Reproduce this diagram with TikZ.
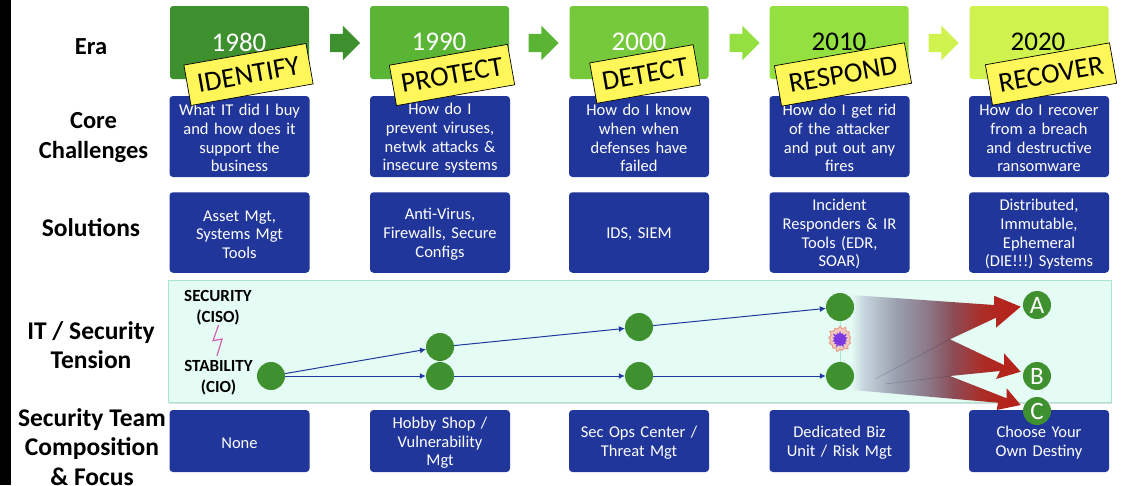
\documentclass[tikz,border=0pt]{standalone}
\usepackage{fontspec}
\setmainfont{Carlito}
\frenchspacing
\usetikzlibrary{arrows.meta,shapes.symbols,shapes.arrows,shapes.geometric}
\definecolor{bluebox}{HTML}{21369B}
\definecolor{tensbg}{HTML}{E4FCF4}
\definecolor{tensedge}{HTML}{A8E6D0}
\definecolor{dotgreen}{HTML}{3F9130}
\definecolor{lineblue}{HTML}{1F3A9E}
\definecolor{redarrow}{HTML}{B4241C}
\definecolor{fadeA}{HTML}{C7D6DE}
\definecolor{fadeB}{HTML}{999EAD}
\definecolor{fadeC}{HTML}{8C7887}
\definecolor{fadeD}{HTML}{8C4D57}
\definecolor{fadeE}{HTML}{AD2B26}
\definecolor{yel}{HTML}{FFF65A}
\definecolor{gA}{HTML}{3E8F2E}
\definecolor{gB}{HTML}{5AB535}
\definecolor{gC}{HTML}{76C93B}
\definecolor{gD}{HTML}{93E040}
\definecolor{gE}{HTML}{CFF24F}
\definecolor{boltc}{HTML}{D660AA}
\definecolor{burstout}{HTML}{F0C8BE}
\definecolor{burstedge}{HTML}{E8A08C}
\definecolor{burstin}{HTML}{7A38E0}
\pgfdeclarehorizontalshading{redfade}{100bp}{
  color(0bp)=(tensbg); color(25bp)=(tensbg);
  color(29bp)=(fadeA);
  color(40bp)=(fadeB);
  color(50bp)=(fadeC);
  color(58bp)=(fadeD);
  color(68bp)=(fadeE);
  color(75bp)=(redarrow); color(100bp)=(redarrow)}
\tikzset{
  era/.style={rounded corners=3pt,minimum width=139pt,minimum height=73pt,inner sep=0pt},
  yearlabel/.style={font=\fontsize{27}{27}\selectfont},
  bluecard/.style={fill=bluebox,rounded corners=3.5pt,minimum width=140pt,inner sep=1pt,text=white,align=center,font=\fontsize{16.5}{18.7}\selectfont,text width=138pt,execute at begin node={\leavevmode\vrule width 0pt height 15pt\relax}},
  tagbox/.style={draw=black,line width=0.7pt,fill=yel,rotate=10,minimum height=41pt,inner sep=0pt,font=\fontsize{28}{30}\selectfont},
  rowlabel/.style={align=center,font=\fontsize{25.5}{29.5}\selectfont\bfseries},
  rowlabelsm/.style={align=center,font=\fontsize{24.5}{30}\selectfont\bfseries},
  dot/.style={circle,fill=dotgreen,minimum size=28pt,inner sep=0pt},
  letterdot/.style={circle,fill=dotgreen,minimum size=28pt,inner sep=0pt,text=white,font=\fontsize{25}{25}\selectfont},
  flow/.style={draw=lineblue,line width=1pt,-{Latex[length=6pt,width=6pt]}},
  stepgo/.style={shape=single arrow,single arrow head extend=8pt,single arrow tip angle=90,inner xsep=0pt,inner ysep=9pt,minimum height=30pt,single arrow head indent=0pt},
  small/.style={align=center,font=\fontsize{17}{21}\selectfont\bfseries},
}
\begin{document}
\begin{tikzpicture}[x=1pt,y=-1pt]
\useasboundingbox (0,0) rectangle (1122,485);
\fill[white] (0,0) rectangle (1122,485);
\fill[black] (0,0) rectangle (11,485);
% era boxes
\node[era,fill=gA] (e1) at (239.5,42.5) {};
\node[era,fill=gB] (e2) at (439.5,42.5) {};
\node[era,fill=gC] (e3) at (639,42.5) {};
\node[era,fill=gD] (e4) at (839,42.5) {};
\node[era,fill=gE] (e5) at (1039,42.5) {};
\node[yearlabel,text=white] (y1) at (239,42) {1980};
\node[yearlabel,text=white] (y2) at (439,42) {1990};
\node[yearlabel,text=white] (y3) at (639,42) {2000};
\node[yearlabel,text=black] (y4) at (839,42) {2010};
\node[yearlabel,text=black] (y5) at (1038,42) {2020};
% arrows between eras
\node[stepgo,fill=gA] (a1) at (340.5,43) {};
\node[stepgo,fill=gB] (a2) at (539,43) {};
\node[stepgo,fill=gD] (a3) at (740,43) {};
\node[stepgo,fill=gE] (a4) at (939,43) {};
% core
\node[bluecard,minimum height=81pt] (c1) at (239.5,136.5) {What IT did I buy\\and how does it\\support the\\business};
\node[bluecard,minimum height=81pt] (c2) at (440,136.5) {How do I\\prevent viruses,\\netwk attacks \&\\insecure systems};
\node[bluecard,minimum height=81pt] (c3) at (639,136.5) {How do I know\\when when\\defenses have\\failed};
\node[bluecard,minimum height=81pt] (c4) at (839.5,136.5) {How do I get rid\\of the attacker\\and put out any\\fires};
\node[bluecard,minimum height=81pt] (c5) at (1039,136.5) {How do I recover\\from a breach\\and destructive\\ransomware};
% tags
\node[tagbox,minimum width=124pt] (t1) at (248.5,74.5) {IDENTIFY};
\node[tagbox,minimum width=120pt] (t2) at (452,75) {PROTECT};
\node[tagbox,minimum width=105pt] (t3) at (645,74) {DETECT};
\node[tagbox,minimum width=132pt] (t4) at (843,74.5) {RESPOND};
\node[tagbox,minimum width=126pt] (t5) at (1051,74) {RECOVER};
% solutions
\node[bluecard,minimum height=80.5pt] (s1) at (239.5,232.5) {Asset Mgt,\\Systems Mgt\\Tools};
\node[bluecard,minimum height=80.5pt] (s2) at (440,232.5) {Anti-Virus,\\Firewalls, Secure\\Configs};
\node[bluecard,minimum height=80.5pt] (s3) at (639,232.5) {IDS, SIEM};
\node[bluecard,minimum height=80.5pt] (s4) at (839.5,232.5) {Incident\\Responders \& IR\\Tools (EDR,\\SOAR)};
\node[bluecard,minimum height=80.5pt] (s5) at (1039,232.5) {Distributed,\\Immutable,\\Ephemeral\\(DIE!!!) Systems};
% row labels
\node[rowlabelsm] (l1) at (91,47) {Era};
\node[rowlabelsm] (l2) at (93.5,138) {Core\\Challenges};
\node[rowlabel] (l3) at (91,227.5) {Solutions};
\node[rowlabel] (l4) at (91,345) {IT / Security\\Tension};
\node[rowlabel] (l5) at (92,447) {Security Team\\Composition\\\& Focus};
% tension panel
\fill[black!25,opacity=.5] (169,282) rectangle (1112,404);
\node[draw=tensedge,fill=tensbg,line width=1pt,minimum width=943pt,minimum height=122pt,inner sep=0pt] (panel) at (639.5,341) {};
\node[small] (sec) at (218,308) {SECURITY\\(CISO)};
\node[small] (sta) at (218.5,378) {STABILITY\\(CIO)};
\coordinate (bolttop) at (218.6,325);
\coordinate (boltbot) at (217,356);
\draw[draw=boltc,line width=1.2pt] (bolttop) -- (213,340.7) -- (222,339) -- (boltbot);
% bottom row
\node[bluecard,minimum height=62pt] (b1) at (239.5,441) {None};
\node[bluecard,minimum height=62pt] (b2) at (440,441) {Hobby Shop /\\Vulnerability\\Mgt};
\node[bluecard,minimum height=62pt] (b3) at (639,441) {Sec Ops Center /\\Threat Mgt};
\node[bluecard,minimum height=62pt] (b4) at (839.5,441) {Dedicated Biz\\Unit / Risk Mgt};
\node[bluecard,minimum height=62pt] (b5) at (1039,441) {Choose Your\\Own Destiny};
% red arrows
\begin{scope}
\clip (851.7,295) -- (994,305) -- (994,295.7) -- (1020.7,306.7) -- (996,327.7) -- (996,317.7) -- (950,339.3)
  -- (1004,365) -- (1004,353.3) -- (1020.7,371.7) -- (996,379) -- (1000,371) -- (950,376)
  -- (1006.7,398.3) -- (1006.7,388.3) -- (1020.7,405) -- (996.7,410) -- (998,402.7) -- (851.7,390) -- cycle;
\shade[shading=redfade] (851,290) rectangle (1005,415);
\fill[redarrow] (1004.5,290) rectangle (1025,415);
\draw[draw=black!60!lineblue,opacity=.2,line width=.6pt] (950,339.3) -- (875,379);
\draw[draw=black!60!lineblue,opacity=.2,line width=.6pt] (950,376) -- (885,384);
\end{scope}
% dots
\node[dot] (d1) at (271,376) {};
\node[dot] (u2) at (440,347) {};
\node[dot] (m2) at (440,376) {};
\node[dot] (u3) at (639,327) {};
\node[dot] (m3) at (639,376) {};
\node[dot] (u4) at (840,307) {};
\node[dot] (m4) at (840,376) {};
\draw[draw=tensedge,line width=.8pt] (u4) -- (m4);
\draw[flow] (d1) -- (u2);
\draw[flow] (d1) -- (m2);
\draw[flow] (u2) -- (u3);
\draw[flow] (m2) -- (m3);
\draw[flow] (u3) -- (u4);
\draw[flow] (m3) -- (m4);
% burst
\node[starburst,starburst points=13,starburst point height=3pt,fill=burstout,draw=burstedge,line width=1pt,minimum width=25pt,minimum height=27pt,inner sep=0pt] (bo) at (840,339) {};
\node[starburst,starburst points=14,starburst point height=4pt,fill=burstin,minimum width=19pt,minimum height=19pt,inner sep=0pt] (bi) at (840,339.5) {};
\node[letterdot] (A) at (1037,305) {A};
\node[letterdot] (B) at (1037,376) {B};
\node[letterdot] (C) at (1037,411) {C};
\end{tikzpicture}
\end{document}
